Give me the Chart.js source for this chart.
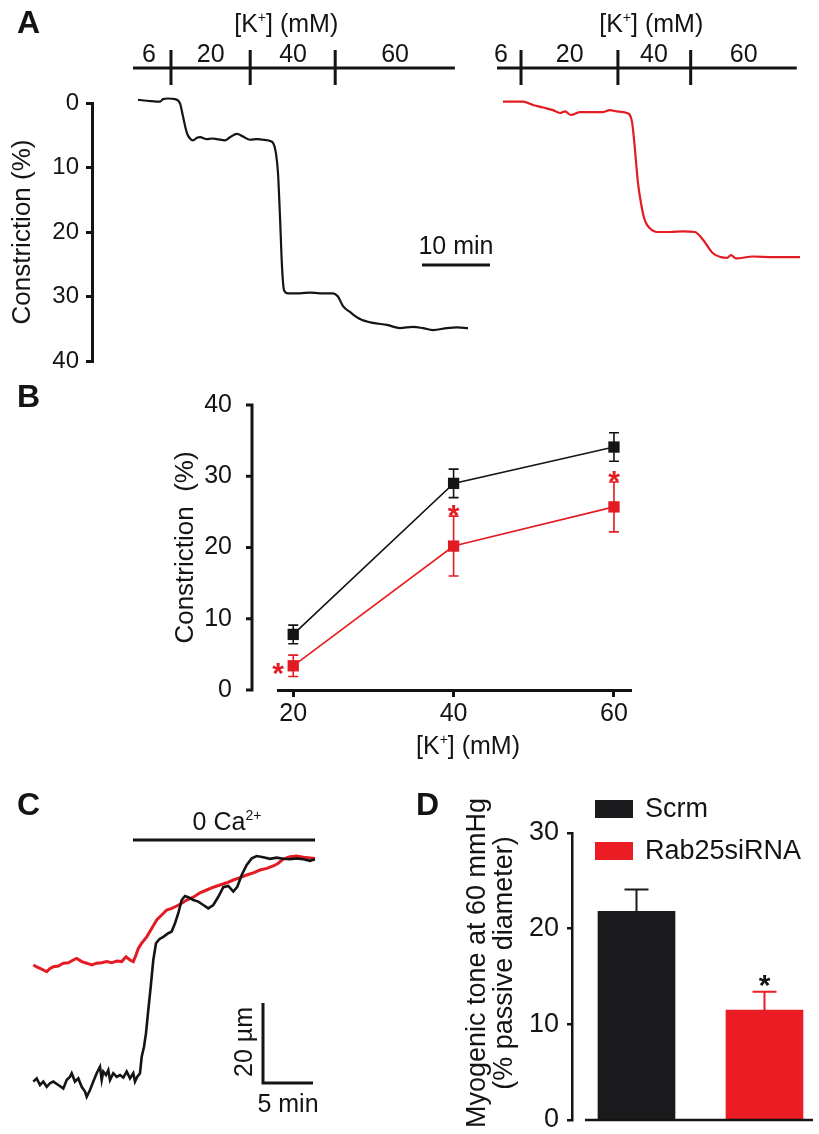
<!DOCTYPE html>
<html><head><meta charset="utf-8">
<script src="https://cdn.jsdelivr.net/npm/chart.js@4.4.1/dist/chart.umd.min.js"></script>
<style>
html,body{margin:0;padding:0;background:#fff;}
#page{position:relative;width:819px;height:1134px;overflow:hidden;background:#fff;}
canvas{position:absolute;}
</style></head><body><div id="page">
<canvas id="cA1" width="500" height="380" style="left:0px;top:0px"></canvas>
<canvas id="cA2" width="339" height="380" style="left:480px;top:0px"></canvas>
<canvas id="cB" width="640" height="390" style="left:0px;top:380px"></canvas>
<canvas id="cC" width="345" height="354" style="left:0px;top:780px"></canvas>
<canvas id="cD" width="409" height="354" style="left:410px;top:780px"></canvas>
</div>
<script>
// ---------------- DATA ----------------
// Panel A: constriction traces (time in min, constriction in %)
const aTimeScrm = [0,1.76,3.24,3.68,4.41,5.44,6.18,6.62,7.21,7.65,8.09,8.68,9.12,10.15,10.88,11.62,12.79,13.53,14.56,15.44,16.47,17.5,18.38,19.71,20.29,20.59,20.88,21.18,21.47,22.06,23.82,25.29,26.76,28.68,29.41,30.15,31.18,32.65,34.56,36.62,38.53,40.44,41.91,43.38,45.44,46.91,48.53];
const aConstrScrm = [-0.5,-0.3,-0.2,-0.6,-0.7,-0.6,0.05,2.1,4.7,5.5,5.8,5.4,5.3,5.6,5.5,5.6,5.8,5.3,4.8,5.2,5.7,5.6,5.7,6.0,7.8,10.9,17.6,25.4,29.0,29.5,29.5,29.4,29.5,29.5,30.0,31.5,32.4,33.5,34.1,34.4,34.9,34.7,34.9,35.2,34.9,34.8,34.9];
const aTimeSiRNA = [0,2.94,4.41,5.88,7.35,8.38,9.12,10.0,11.32,12.79,14.71,15.74,16.76,18.24,18.97,19.41,19.85,20.29,20.74,21.18,21.91,22.65,24.56,26.47,28.24,29.41,30.88,32.06,32.94,33.53,34.26,36.76,39.71,43.68];
const aConstrSiRNA = [-0.2,-0.2,0.3,0.7,1.1,1.55,1.3,1.86,1.4,1.4,1.4,1.1,1.3,1.55,2.9,7.3,12.4,15.5,17.8,18.9,19.7,20.0,20.0,19.9,20.0,21.2,23.3,23.9,24.0,23.6,24.1,23.8,23.9,23.9];
const aYTicks = [0,10,20,30,40];
const kLabels = ['6','20','40','60'];
const kSwitchScrm = [4.85,16.5,29.0];
const kSpanScrm = [-0.74,46.6];
const kLabelPosScrm = [1.6,10.7,22.8,37.8];
const kSwitchSiRNA = [2.65,16.9,27.6];
const kSpanSiRNA = [-0.88,43.2];
const kLabelPosSiRNA = [-0.3,9.8,22.2,35.4];
const aScaleBarMin = [41.76,51.76];   // 10 min bar
const aScaleBarLevel = 25.1;

// Panel B: constriction vs [K+]
const bK = [20,40,60];
const bScrm = [7.8,29.0,34.1];
const bScrmErr = [1.3,2.0,2.0];
const bSiRNA = [3.4,20.2,25.7];
const bSiRNAErr = [1.5,4.2,3.5];
const bStarX = [18.1,40,60];
const bStarY = [3.4,25.5,30.4];

// Panel C: diameter traces (time in min, diameter in um, relative)
const cTimeScrm = [0.03,0.37,0.7,1.03,1.37,1.7,2.03,2.53,3.03,3.37,3.7,3.87,4.2,4.53,4.87,5.2,5.37,5.7,6.03,6.37,6.53,6.7,6.87,7.03,7.3,7.53,7.7,8.03,8.37,8.7,9.03,9.37,9.7,10.03,10.2,10.43,10.7,10.87,11.1,11.3,11.53,11.77,12.03,12.3,12.63,13.03,13.53,13.87,14.2,14.53,14.87,15.2,15.53,16.03,16.53,17.03,17.53,18.03,18.53,19.03,19.53,20.03,20.43,20.87,21.37,21.87,22.37,23.03,23.7,24.37,25.03,25.7,26.37,27.03,27.7,28.2];
const cDiamScrm = [4.6,5.4,3.75,4.6,3.3,4.2,4.6,3.75,2.9,5.0,5.8,6.7,4.6,5.4,3.3,2.1,0.8,2.5,4.6,6.7,7.5,8.3,5.0,7.1,6.25,7.5,5.0,6.7,5.8,6.25,5.6,7.1,5.4,6.7,4.6,5.8,6.7,10.8,13.3,16.7,22.5,28.3,35.0,39.2,40.2,40.8,41.7,42.1,44.2,46.7,50.0,51.0,50.7,50.0,49.6,48.75,47.9,48.75,50.8,53.2,53.5,52.1,53.3,56.25,58.75,60.4,61.0,60.7,60.3,60.6,60.3,60.2,60.4,60.2,59.8,60.2];
const cTimeSiRNA = [0.03,0.37,0.7,1.03,1.37,1.7,2.03,2.53,3.03,3.53,4.03,4.37,4.87,5.37,5.87,6.37,6.87,7.37,7.87,8.37,8.87,9.3,9.7,10.03,10.3,10.53,10.87,11.37,11.87,12.37,12.87,13.37,13.87,14.37,14.87,15.37,16.03,16.7,17.37,18.03,18.7,19.37,20.03,20.7,21.37,22.03,22.7,23.37,24.03,24.53,25.03,25.7,26.37,27.03,28.2];
const cDiamSiRNA = [33.75,33.3,32.9,32.5,32.1,32.9,33.3,33.5,34.2,34.3,35.0,35.4,34.6,34.2,33.75,34.2,34.3,34.6,34.3,34.75,34.6,35.8,35.0,34.6,36.25,37.9,39.2,40.8,42.9,45.0,46.25,47.5,47.9,48.5,49.2,50.0,50.7,51.8,52.5,53.2,53.75,54.3,55.0,55.6,56.25,56.8,57.5,57.9,58.5,59.2,60.2,60.8,61.0,60.7,60.4];
const cCaFreeSpan = [10.0,28.2];
const cScaleBarT = [23.0,28.0];   // 5 min
const cScaleBarD = [4.25,24.25];  // 20 um

// Panel D: myogenic tone
const dGroups = ['Scrm','Rab25siRNA'];
const dTone = [21.8,11.5];
const dToneErr = [2.3,1.9];
const dTitle = ['Myogenic tone at 60 mmHg','(% passive diameter)'];

// ---------------- STYLE / HELPERS ----------------
const FONT = "'Liberation Sans', Arial, Helvetica, sans-serif";
const INK = '#141414';
const RED = '#e31b23';
const BAR_BLACK = '#1a1a1c';
const BAR_RED = '#ec1c24';
Chart.defaults.font.family = FONT;
Chart.defaults.color = INK;

function pts(xs, ys){ return xs.map((x,i)=>({x:x, y:ys[i]})); }
function noPad(s){ s.paddingTop = 0; s.paddingBottom = 0; s.paddingLeft = 0; s.paddingRight = 0; }

function drawRich(ctx, parts, x, y, size, align, color){
  const norm = size + 'px ' + FONT, sup = Math.round(size*0.58) + 'px ' + FONT;
  let w = 0; const ws = [];
  parts.forEach(p => { ctx.font = p.sup ? sup : norm; const m = ctx.measureText(p.t).width; ws.push(m); w += m; });
  let cx = align === 'center' ? x - w/2 : (align === 'right' ? x - w : x);
  ctx.textAlign = 'left'; ctx.textBaseline = 'alphabetic'; ctx.fillStyle = color;
  parts.forEach((p,i) => { ctx.font = p.sup ? sup : norm; ctx.fillText(p.t, cx, p.sup ? y - size*0.42 : y); cx += ws[i]; });
}
function drawStar(ctx, x, y, size, color){
  ctx.font = 'bold ' + size + 'px ' + FONT; ctx.fillStyle = color; ctx.textAlign = 'center'; ctx.textBaseline = 'alphabetic';
  ctx.fillText('*', x, y + size*0.57);
}
function letter(ctx, t, x, y){
  ctx.font = 'bold 32px ' + FONT; ctx.fillStyle = INK; ctx.textAlign = 'left'; ctx.textBaseline = 'alphabetic';
  ctx.fillText(t, x, y);
}
const K_TITLE = [{t:'[K'},{t:'+',sup:true},{t:'] (mM)'}];

function kBarPlugin(sw, span, labelPos, panelLetter){
  return { id:'kbar', afterDraw(chart){
    const ctx = chart.ctx, xs = chart.scales.x, yLine = chart.chartArea.top - 35;
    ctx.save();
    ctx.strokeStyle = INK; ctx.lineWidth = 3; ctx.lineCap = 'butt';
    ctx.beginPath();
    ctx.moveTo(xs.getPixelForValue(span[0]), yLine); ctx.lineTo(xs.getPixelForValue(span[1]), yLine);
    sw.forEach(t => { const p = xs.getPixelForValue(t); ctx.moveTo(p, yLine-18); ctx.lineTo(p, yLine+17); });
    ctx.stroke();
    ctx.font = '25px ' + FONT; ctx.fillStyle = INK; ctx.textAlign = 'center'; ctx.textBaseline = 'alphabetic';
    kLabels.forEach((l,i) => ctx.fillText(l, xs.getPixelForValue(labelPos[i]), yLine - 6));
    drawRich(ctx, K_TITLE, xs.getPixelForValue(21.8), yLine - 36, 25, 'center', INK);
    if (panelLetter) letter(ctx, panelLetter, 17, 33);
    ctx.restore();
  }};
}

const base = { responsive:false, animation:false, devicePixelRatio:1, events:[],
  plugins:{ legend:{display:false}, tooltip:{enabled:false} } };

// ---------------- PANEL A (left, Scrm) ----------------
new Chart(document.getElementById('cA1'), {
  type:'line',
  data:{ datasets:[{ data: pts(aTimeScrm, aConstrScrm), borderColor: INK, borderWidth: 2.2, pointRadius: 0, cubicInterpolationMode:'monotone', clip:false }] },
  options: Object.assign({}, base, {
    layout:{ padding:{left:0, top:103, right:30, bottom:19} },
    scales:{
      x:{ type:'linear', display:false, min:-6.765, max:48.824 },
      y:{ type:'linear', reverse:true, min:0, max:40,
          afterFit: s => { s.width = 92; noPad(s); },
          afterBuildTicks: s => { s.ticks = aYTicks.map(v => ({value:v})); },
          ticks:{ padding:7, font:{size:24}, color:INK },
          border:{ display:true, width:3, color:INK },
          grid:{ display:true, drawOnChartArea:false, drawTicks:true, tickLength:6, lineWidth:3, color:INK },
          title:{ display:true, text:'Constriction (%)', font:{size:26}, color:INK, padding:{top:7, bottom:0} } }
    }
  }),
  plugins:[ kBarPlugin(kSwitchScrm, kSpanScrm, kLabelPosScrm, 'A'),
    { id:'scalebarA', afterDraw(chart){
      const ctx = chart.ctx, xs = chart.scales.x, ys = chart.scales.y;
      const y = ys.getPixelForValue(aScaleBarLevel);
      const x0 = xs.getPixelForValue(aScaleBarMin[0]), x1 = xs.getPixelForValue(aScaleBarMin[1]);
      ctx.save(); ctx.strokeStyle = INK; ctx.lineWidth = 3;
      ctx.beginPath(); ctx.moveTo(x0, y); ctx.lineTo(x1, y); ctx.stroke();
      ctx.font = '25px ' + FONT; ctx.fillStyle = INK; ctx.textAlign = 'center'; ctx.textBaseline = 'alphabetic';
      ctx.fillText('10 min', (x0+x1)/2, y - 11);
      ctx.restore();
    }} ]
});

// ---------------- PANEL A (right, Rab25 siRNA) ----------------
new Chart(document.getElementById('cA2'), {
  type:'line',
  data:{ datasets:[{ data: pts(aTimeSiRNA, aConstrSiRNA), borderColor: RED, borderWidth: 2.2, pointRadius: 0, cubicInterpolationMode:'monotone', clip:false }] },
  options: Object.assign({}, base, {
    layout:{ padding:{left:10, top:103, right:9, bottom:19} },
    scales:{
      x:{ type:'linear', display:false, min:-1.912, max:45.147 },
      y:{ type:'linear', display:false, reverse:true, min:0, max:40 }
    }
  }),
  plugins:[ kBarPlugin(kSwitchSiRNA, kSpanSiRNA, kLabelPosSiRNA, null) ]
});

// ---------------- PANEL B ----------------
new Chart(document.getElementById('cB'), {
  type:'line',
  data:{ datasets:[
    { data: pts(bK, bScrm), errors: bScrmErr, borderColor: INK, backgroundColor: INK, borderWidth: 1.6,
      pointStyle:'rect', pointRadius: 8, pointBorderWidth: 0, clip:false },
    { data: pts(bK, bSiRNA), errors: bSiRNAErr, borderColor: RED, backgroundColor: RED, borderWidth: 1.6,
      pointStyle:'rect', pointRadius: 8, pointBorderWidth: 0, clip:false }
  ]},
  options: Object.assign({}, base, {
    layout:{ padding:{left:0, top:25, right:10, bottom:0} },
    scales:{
      x:{ type:'linear', min:18.1, max:62.0,
          afterBuildTicks: s => { s.ticks = bK.map(v => ({value:v})); },
          afterFit: s => { s.height = 80; noPad(s); },
          ticks:{ padding:2, font:{size:25}, color:INK, maxRotation:0 },
          border:{ display:true, width:3, color:INK },
          grid:{ display:true, drawOnChartArea:false, drawTicks:true, tickLength:7, lineWidth:3, color:INK } },
      y:{ type:'linear', min:0, max:40,
          afterFit: s => { s.width = 278; noPad(s); },
          afterBuildTicks: s => { s.ticks = aYTicks.map(v => ({value:v})); },
          ticks:{ padding:38, font:{size:25}, color:INK },
          border:{ display:false }, grid:{ display:false },
          title:{ display:true, text:'Constriction  (%)', font:{size:26}, color:INK, padding:{top:170, bottom:0} } }
    }
  }),
  plugins:[{ id:'panelB', afterDatasetsDraw(chart){
    const ctx = chart.ctx, xs = chart.scales.x, ys = chart.scales.y, ca = chart.chartArea;
    ctx.save();
    const ax = ca.left - 26;
    ctx.strokeStyle = INK; ctx.lineWidth = 3;
    ctx.beginPath(); ctx.moveTo(ax, ys.getPixelForValue(40) - 1.5); ctx.lineTo(ax, ys.getPixelForValue(0) + 1.5);
    aYTicks.forEach(v => { const p = ys.getPixelForValue(v); ctx.moveTo(ax - 6, p); ctx.lineTo(ax, p); });
    ctx.stroke();
    chart.data.datasets.forEach(ds => {
      ctx.strokeStyle = ds.borderColor; ctx.lineWidth = 1.6; ctx.beginPath();
      ds.data.forEach((d,i) => {
        const x = xs.getPixelForValue(d.x), yt = ys.getPixelForValue(d.y + ds.errors[i]), yb = ys.getPixelForValue(d.y - ds.errors[i]);
        ctx.moveTo(x, yt); ctx.lineTo(x, yb);
        ctx.moveTo(x-5, yt); ctx.lineTo(x+5, yt);
        ctx.moveTo(x-5, yb); ctx.lineTo(x+5, yb);
      });
      ctx.stroke();
    });
    bStarX.forEach((sx,i) => drawStar(ctx, xs.getPixelForValue(sx), ys.getPixelForValue(bStarY[i]), 30, RED));
    drawRich(ctx, K_TITLE, 468, 374, 25, 'center', INK);
    letter(ctx, 'B', 17, 27);
    ctx.restore();
  }}]
});

// ---------------- PANEL C ----------------
new Chart(document.getElementById('cC'), {
  type:'line',
  data:{ datasets:[
    { data: pts(cTimeScrm, cDiamScrm), borderColor: INK, borderWidth: 2.6, pointRadius: 0, tension: 0 },
    { data: pts(cTimeSiRNA, cDiamSiRNA), borderColor: RED, borderWidth: 3, pointRadius: 0, tension: 0 }
  ]},
  options: Object.assign({}, base, {
    layout:{ padding:{left:20, top:20, right:15, bottom:14} },
    scales:{
      x:{ type:'linear', display:false, min:-1.3, max:29.7 },
      y:{ type:'linear', display:false, min:-5, max:75 }
    }
  }),
  plugins:[{ id:'panelC', afterDraw(chart){
    const ctx = chart.ctx, xs = chart.scales.x, ys = chart.scales.y;
    ctx.save();
    ctx.strokeStyle = INK; ctx.lineWidth = 3;
    ctx.beginPath();
    ctx.moveTo(xs.getPixelForValue(cCaFreeSpan[0]), ys.getPixelForValue(65));
    ctx.lineTo(xs.getPixelForValue(cCaFreeSpan[1]), ys.getPixelForValue(65));
    ctx.stroke();
    drawRich(ctx, [{t:'0 Ca'},{t:'2+',sup:true}], xs.getPixelForValue(19.4), ys.getPixelForValue(67.5), 25, 'center', INK);
    const sx0 = xs.getPixelForValue(cScaleBarT[0]), sx1 = xs.getPixelForValue(cScaleBarT[1]);
    const sy0 = ys.getPixelForValue(cScaleBarD[0]), sy1 = ys.getPixelForValue(cScaleBarD[1]);
    ctx.beginPath(); ctx.moveTo(sx0, sy1); ctx.lineTo(sx0, sy0); ctx.lineTo(sx1, sy0); ctx.stroke();
    ctx.font = '25px ' + FONT; ctx.fillStyle = INK; ctx.textAlign = 'center'; ctx.textBaseline = 'alphabetic';
    ctx.fillText('5 min', xs.getPixelForValue(25.5), ys.getPixelForValue(-3));
    ctx.save();
    ctx.translate(xs.getPixelForValue(21.9), ys.getPixelForValue(14.5));
    ctx.rotate(-Math.PI/2);
    ctx.fillText('20 \u00b5m', 0, 0);
    ctx.restore();
    letter(ctx, 'C', 17, 35);
    ctx.restore();
  }}]
});

// ---------------- PANEL D ----------------
new Chart(document.getElementById('cD'), {
  type:'bar',
  data:{ labels: dGroups, datasets:[{ data: dGroups.map((g,i) => ({x:i, y:dTone[i]})), errors: dToneErr,
    backgroundColor:[BAR_BLACK, BAR_RED], borderWidth:0, barThickness:77 }] },
  options: Object.assign({}, base, {
    layout:{ padding:{left:0, top:53, right:6, bottom:14} },
    scales:{
      x:{ type:'linear', display:false, offset:false, min:-0.504, max:1.379 },
      y:{ type:'linear', min:0, max:30,
          afterFit: s => { s.width = 162; noPad(s); },
          ticks:{ stepSize:10, padding:8, font:{size:27}, color:INK },
          border:{ display:true, width:2.5, color:INK },
          grid:{ display:true, drawOnChartArea:false, drawTicks:true, tickLength:5, lineWidth:2.5, color:INK },
          title:{ display:false } }
    }
  }),
  plugins:[{ id:'panelD', afterDraw(chart){
    const ctx = chart.ctx, xs = chart.scales.x, ys = chart.scales.y, ca = chart.chartArea;
    const ds = chart.data.datasets[0];
    ctx.save();
    ctx.strokeStyle = INK; ctx.lineWidth = 2.5;
    ctx.beginPath(); ctx.moveTo(ca.left + 13, ys.getPixelForValue(0)); ctx.lineTo(ca.right, ys.getPixelForValue(0)); ctx.stroke();
    ds.data.forEach((d,i) => {
      const x = xs.getPixelForValue(d.x), y0 = ys.getPixelForValue(d.y), y1 = ys.getPixelForValue(d.y + ds.errors[i]);
      ctx.strokeStyle = ds.backgroundColor[i]; ctx.lineWidth = 2;
      ctx.beginPath(); ctx.moveTo(x, y0); ctx.lineTo(x, y1); ctx.moveTo(x-12, y1); ctx.lineTo(x+12, y1); ctx.stroke();
    });
    drawStar(ctx, xs.getPixelForValue(1), ys.getPixelForValue(14.84), 30, INK);
    // y title (two lines, rotated)
    ctx.save();
    ctx.translate(68, 183);
    ctx.rotate(-Math.PI/2);
    ctx.font = '27px ' + FONT; ctx.fillStyle = INK; ctx.textAlign = 'center'; ctx.textBaseline = 'middle';
    dTitle.forEach((t,i) => ctx.fillText(t, 0, i*27));
    ctx.restore();
    // legend
    ctx.font = '27px ' + FONT; ctx.textAlign = 'left'; ctx.textBaseline = 'middle';
    dGroups.forEach((g,i) => {
      const top = 20 + i*42;
      ctx.fillStyle = ds.backgroundColor[i]; ctx.fillRect(185, top, 38, 18);
      ctx.fillStyle = INK; ctx.fillText(g, 235, top + 10);
    });
    letter(ctx, 'D', 6, 35);
    ctx.restore();
  }}]
});
</script></body></html>
